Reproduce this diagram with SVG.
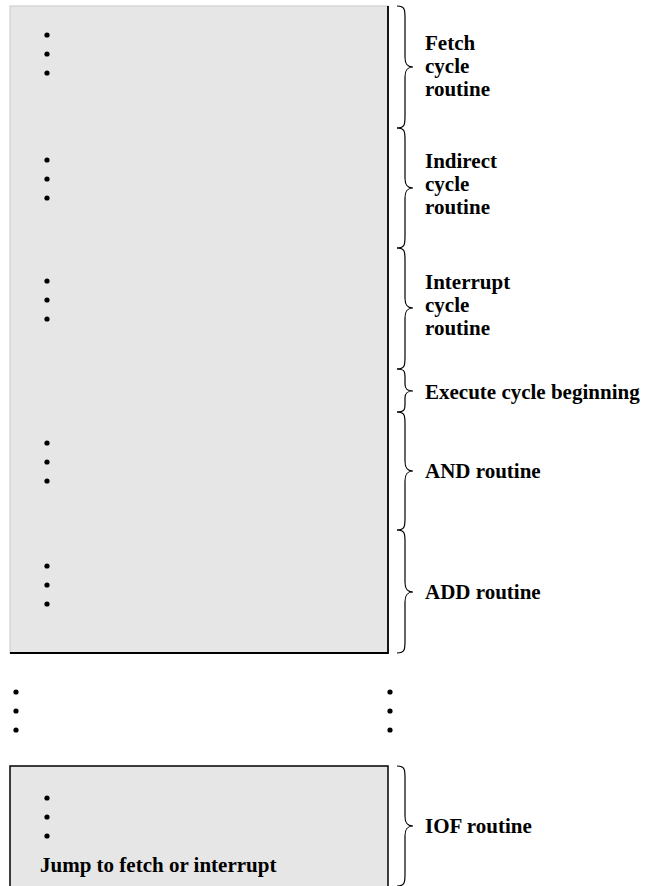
<svg xmlns="http://www.w3.org/2000/svg" width="645" height="886" viewBox="0 0 645 886">
<style>
.lbl{font-family:"Liberation Serif","Times New Roman",serif;font-weight:bold;font-size:21px;fill:#000}
.brace{fill:none;stroke:#000;stroke-width:1.2}
.box{fill:#e6e6e6}
</style>
<defs>
<g id="dots"><circle cx="0" cy="0" r="2.6"/><circle cx="0" cy="19" r="2.6"/><circle cx="0" cy="38" r="2.6"/></g>
</defs>
<rect width="645" height="886" fill="#fff"/>
<g id="memory-top">
<rect class="box" x="10" y="6" width="378" height="647" stroke="#cfcfcf" stroke-width="1.2"/>
<path d="M388,6 L388,653 L10,653" fill="none" stroke="#000" stroke-width="1.8"/>
<use href="#dots" x="47" y="35"/>
<use href="#dots" x="47" y="160"/>
<use href="#dots" x="47" y="281"/>
<use href="#dots" x="47" y="443"/>
<use href="#dots" x="47" y="566"/>
</g>
<g id="gap-dots">
<use href="#dots" x="16" y="692"/>
<use href="#dots" x="390" y="692"/>
</g>
<g id="memory-iof">
<rect class="box" x="10" y="766" width="378" height="140" stroke="#000" stroke-width="1.5"/>
<use href="#dots" x="47" y="798"/>
<text class="lbl" x="40" y="872">Jump to fetch or interrupt</text>
</g>
<g id="connectors">
<path class="brace" d="M397,6 C405,6 405,10 405,18 L405,57 C405,64 407,67 413,67 C407,67 405,70 405,77 L405,116 C405,124 405,128 397,128"/>
<path class="brace" d="M397,128 C405,128 405,132 405,140 L405,178 C405,185 407,188 413,188 C407,188 405,191 405,198 L405,236 C405,244 405,248 397,248"/>
<path class="brace" d="M397,248 C405,248 405,252 405,260 L405,298 C405,305 407,308 413,308 C407,308 405,311 405,318 L405,357 C405,365 405,369 397,369"/>
<path class="brace" d="M397,369 C405,369 405,372 405,378 L405,384 C405,389 407,391 413,391 C407,391 405,393 405,398 L405,404 C405,409 405,412 397,412"/>
<path class="brace" d="M397,412 C405,412 405,416 405,424 L405,461 C405,468 407,471 413,471 C407,471 405,474 405,481 L405,518 C405,526 405,530 397,530"/>
<path class="brace" d="M397,530 C405,530 405,534 405,542 L405,582 C405,589 407,592 413,592 C407,592 405,595 405,602 L405,641 C405,649 405,653 397,653"/>
<path class="brace" d="M397,766 C405,766 405,770 405,778 L405,816 C405,823 407,826 413,826 C407,826 405,829 405,836 L405,874 C405,882 405,886 397,886"/>
</g>
<g id="label-fetch"><text class="lbl" x="425" y="50">Fetch</text><text class="lbl" x="425" y="73">cycle</text><text class="lbl" x="425" y="96">routine</text></g>
<g id="label-indirect"><text class="lbl" x="425" y="168">Indirect</text><text class="lbl" x="425" y="191">cycle</text><text class="lbl" x="425" y="214">routine</text></g>
<g id="label-interrupt"><text class="lbl" x="425" y="289">Interrupt</text><text class="lbl" x="425" y="312">cycle</text><text class="lbl" x="425" y="335">routine</text></g>
<g id="label-execute"><text class="lbl" x="425" y="399">Execute cycle beginning</text></g>
<g id="label-and"><text class="lbl" x="425" y="478">AND routine</text></g>
<g id="label-add"><text class="lbl" x="425" y="599">ADD routine</text></g>
<g id="label-iof"><text class="lbl" x="425" y="833">IOF routine</text></g>
</svg>
